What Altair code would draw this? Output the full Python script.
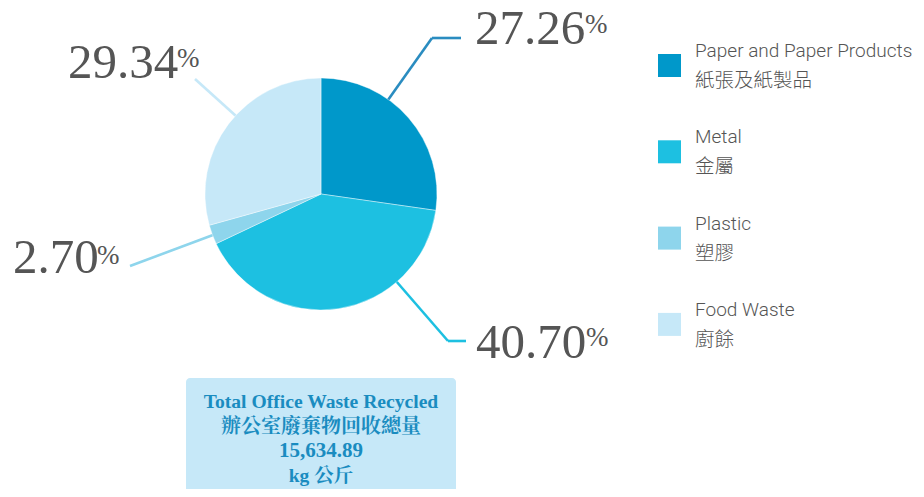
import altair as alt
import pandas as pd

# ---------------- data ----------------
categories = ["Paper and Paper Products", "Metal", "Plastic", "Food Waste"]
categories_zh = ["紙張及紙製品", "金屬", "塑膠", "廚餘"]
percentages = [27.26, 40.70, 2.70, 29.34]
box_lines = ["Total Office Waste Recycled", "辦公室廢棄物回收總量", "15,634.89", "kg 公斤"]

# ---------------- style / layout ----------------
colors = ["#0098CA", "#1DC0E1", "#8ED5EC", "#C6E8F8"]
leader_colors = ["#2A8CC0", "#1DC0E1", "#8ED5EC", "#C6E8F8"]
M = 8                      # page margin: image px -> chart px
W, H = 908, 481
CX, CY, R = 321 - M, 194 - M, 116

# leader polylines in image pixels (rim -> elbow -> end)
leader_pts = [
    [(388, 100), (432, 38), (461, 38)],
    [(396, 281), (448, 341), (466, 341)],
    [(213, 235), (130, 266)],
    [(236, 116), (195, 79)],
]
num_pos = [(475, 44), (476, 358), (13, 273), (68, 78)]
pct_pos = [(585, 33), (586, 346), (97, 264), (177, 67)]
legend_x, legend_y0, legend_step = 669.5, 65.5, 86.3

serif = "Liberation Serif"
sans = "Roboto, 'Noto Sans CJK TC'"
label_color = "#555555"
box_text_color = "#1A8CC0"

df = pd.DataFrame({"cat": categories, "zh": categories_zh, "pct": percentages, "order": range(4)})
color_scale = alt.Scale(domain=categories, range=colors)

# pie
pie = alt.Chart(df).mark_arc(outerRadius=R, stroke="white", strokeWidth=0.4).encode(
    theta=alt.Theta("pct:Q", stack=True),
    color=alt.Color("cat:N", scale=color_scale, legend=None),
    order=alt.Order("order:Q"),
    x=alt.value(CX), y=alt.value(CY),
)

# leader lines
seg_rows = []
for cat, pts, col in zip(categories, leader_pts, leader_colors):
    for (x1, y1), (x2, y2) in zip(pts[:-1], pts[1:]):
        seg_rows.append({"cat": cat, "x": x1 - M, "y": y1 - M, "x2": x2 - M, "y2": y2 - M, "col": col})
segs = pd.DataFrame(seg_rows)
leaders = alt.Chart(segs).mark_rule(strokeWidth=2.6, strokeCap="butt").encode(
    x=alt.X("x:Q", scale=None, axis=None), y=alt.Y("y:Q", scale=None, axis=None),
    x2="x2:Q", y2="y2:Q",
    stroke=alt.Stroke("col:N", scale=None, legend=None),
)

# percent labels
lab = df.copy()
lab["nx"] = [p[0] - M for p in num_pos]
lab["ny"] = [p[1] - M for p in num_pos]
lab["px"] = [p[0] - M for p in pct_pos]
lab["py"] = [p[1] - M for p in pct_pos]
numbers = alt.Chart(lab).mark_text(font=serif, fontSize=49, align="left", baseline="alphabetic",
                                   color=label_color).encode(
    x=alt.X("nx:Q", scale=None, axis=None), y=alt.Y("ny:Q", scale=None, axis=None),
    text=alt.Text("pct:Q", format=".2f"),
)
pcts = alt.Chart(lab).mark_text(font=serif, fontSize=27, align="left", baseline="alphabetic",
                                color=label_color, text="%").encode(
    x=alt.X("px:Q", scale=None, axis=None), y=alt.Y("py:Q", scale=None, axis=None),
)

# legend (manual)
leg = df.copy()
leg["sx"] = legend_x - M
leg["sy"] = [legend_y0 + legend_step * i - M for i in range(4)]
leg["tx"] = 695 - M
leg["ey"] = [57 + legend_step * i - M for i in range(4)]
leg["zy"] = [87 + legend_step * i - M for i in range(4)]
leg_sq = alt.Chart(leg).mark_square(size=529, filled=True, opacity=1).encode(
    x=alt.X("sx:Q", scale=None, axis=None), y=alt.Y("sy:Q", scale=None, axis=None),
    color=alt.Color("cat:N", scale=color_scale, legend=None),
)
leg_en = alt.Chart(leg).mark_text(font=sans, fontSize=19, fontWeight=300, align="left",
                                  baseline="alphabetic", color=label_color).encode(
    x=alt.X("tx:Q", scale=None, axis=None), y=alt.Y("ey:Q", scale=None, axis=None), text="cat:N",
)
leg_zh = alt.Chart(leg).mark_text(font=sans, fontSize=19.5, fontWeight=300, align="left",
                                  baseline="alphabetic", color=label_color).encode(
    x=alt.X("tx:Q", scale=None, axis=None), y=alt.Y("zy:Q", scale=None, axis=None), text="zh:N",
)

# summary box
one = pd.DataFrame({"a": [0]})
box = alt.Chart(one).mark_rect(cornerRadius=4, color="#C6E8F8").encode(
    x=alt.value(186 - M), x2=alt.value(456 - M), y=alt.value(378 - M), y2=alt.value(520 - M),
)
box_df = pd.DataFrame({
    "t": box_lines,
    "x": [321 - M] * 4,
    "y": [408 - M, 433 - M, 457 - M, 482 - M],
    "fs": [19.6, 20, 21, 19.5],
})
box_font = "'Liberation Serif', 'Noto Serif CJK TC', 'Noto Sans CJK TC'"
box_text = alt.Chart(box_df).mark_text(font=box_font, fontWeight="bold", align="center",
                                       baseline="alphabetic", color=box_text_color).encode(
    x=alt.X("x:Q", scale=None, axis=None), y=alt.Y("y:Q", scale=None, axis=None),
    text="t:N", size=alt.Size("fs:Q", scale=None, legend=None),
)

chart = alt.layer(box, box_text, leaders, pie, numbers, pcts, leg_sq, leg_en, leg_zh).properties(
    width=W, height=H, padding=0, autosize="none", background="white",
).configure_view(stroke=None)

chart.save("out.html", embed_options={"renderer": "svg", "actions": False})
